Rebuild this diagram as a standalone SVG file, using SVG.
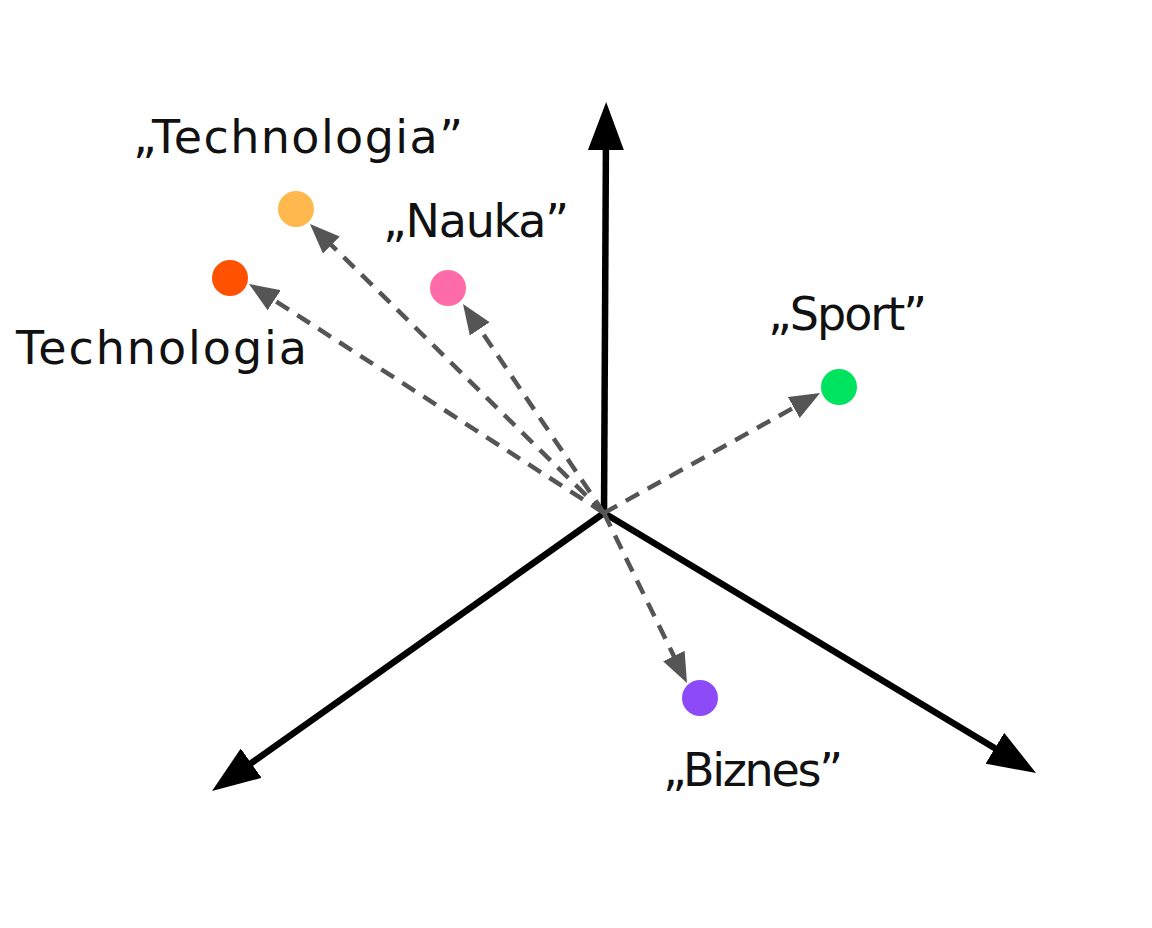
<svg xmlns="http://www.w3.org/2000/svg" width="1152" height="928" viewBox="0 0 1152 928">
<defs>
<style>
.axis{stroke:#000;stroke-width:6.5;fill:none}
.vec{stroke:#555;stroke-width:4.5;stroke-dasharray:15 10;fill:none}
.lbl{font-family:"DejaVu Sans","Liberation Sans",sans-serif;font-size:46px;fill:#111}
</style>
<marker id="axhead" markerUnits="userSpaceOnUse" viewBox="0 0 48 36" markerWidth="48" markerHeight="36" refX="18" refY="18" orient="auto">
<path d="M0,0 L48,18 L0,36 z" fill="#000"/>
</marker>
<marker id="vhead" markerUnits="userSpaceOnUse" viewBox="0 0 30 24" markerWidth="30" markerHeight="24" refX="20" refY="12" orient="auto">
<path d="M0,0 L30,12 L0,24 z" fill="#555"/>
</marker>
</defs>
<rect width="1152" height="928" fill="#fff"/>
<g id="axes">
<line class="axis" x1="604" y1="513" x2="606" y2="132" marker-end="url(#axhead)"/>
<line class="axis" x1="604" y1="513" x2="236.5" y2="773.6" marker-end="url(#axhead)"/>
<line class="axis" x1="604" y1="513" x2="1010.3" y2="757.5" marker-end="url(#axhead)"/>
</g>
<g id="connectors">
<line class="vec" x1="604" y1="513" x2="317.1" y2="231" marker-end="url(#vhead)"/>
<line class="vec" x1="604" y1="513" x2="257.4" y2="289.4" marker-end="url(#vhead)"/>
<line class="vec" x1="604" y1="513" x2="468.6" y2="312.3" marker-end="url(#vhead)"/>
<line class="vec" x1="604" y1="513" x2="811.3" y2="397.9" marker-end="url(#vhead)"/>
<line class="vec" x1="604" y1="513" x2="682.6" y2="674" marker-end="url(#vhead)"/>
</g>
<g id="technologia-q">
<circle cx="296" cy="209" r="18" fill="#FFB84D"/>
<text class="lbl" x="133" y="153" textLength="330">„Technologia”</text>
</g>
<g id="technologia">
<circle cx="230" cy="278" r="18" fill="#FF5100"/>
<text class="lbl" x="16" y="364" textLength="291">Technologia</text>
</g>
<g id="nauka">
<circle cx="448" cy="288" r="18" fill="#FF6AA8"/>
<text class="lbl" x="383" y="237" textLength="186">„Nauka”</text>
</g>
<g id="sport">
<circle cx="839" cy="387" r="18" fill="#00E35E"/>
<text class="lbl" x="768" y="330" textLength="159">„Sport”</text>
</g>
<g id="biznes">
<circle cx="700" cy="698" r="18" fill="#8C4BF7"/>
<text class="lbl" x="663" y="786" textLength="180">„Biznes”</text>
</g>
</svg>
